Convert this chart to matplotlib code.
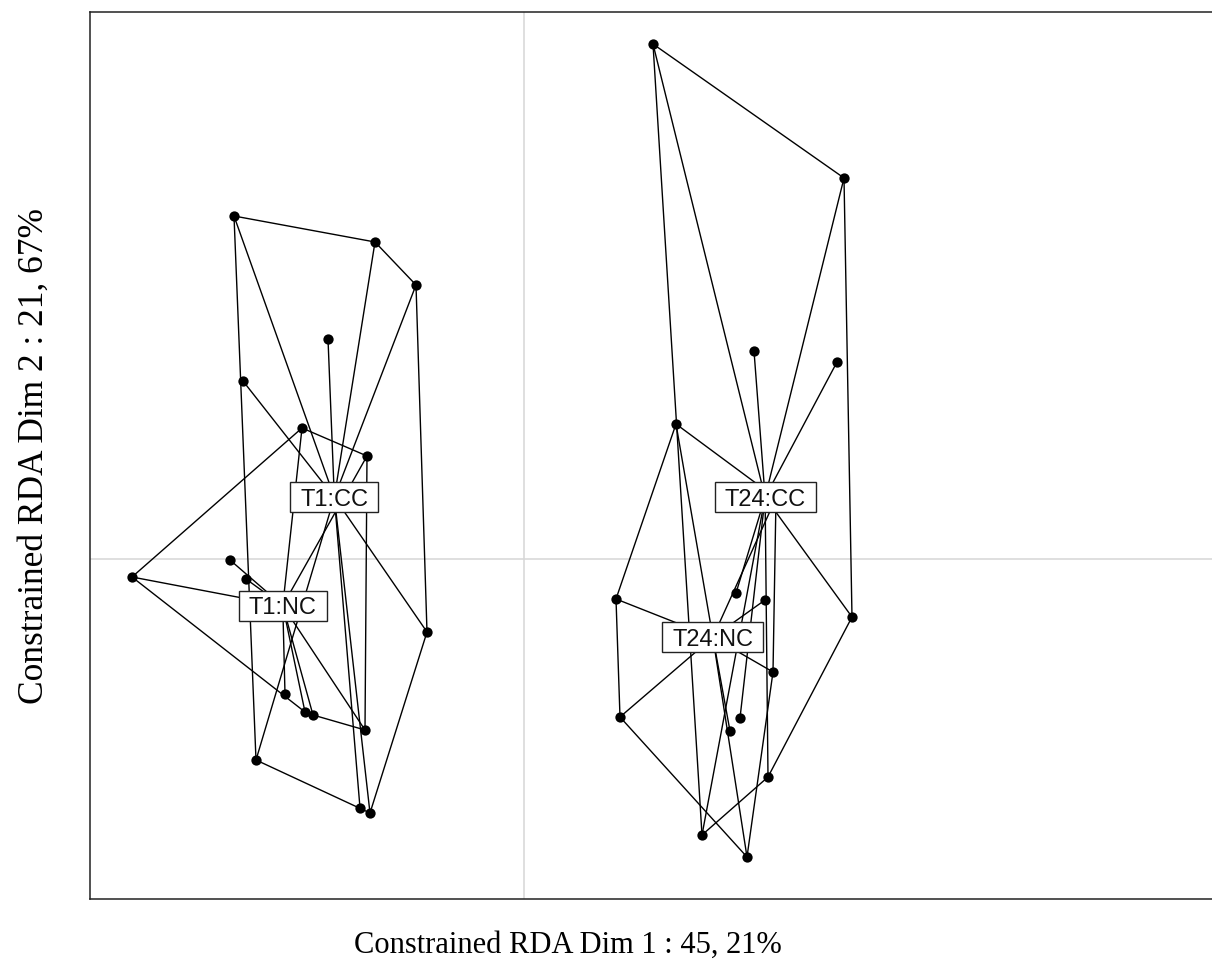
import numpy as np
import matplotlib
matplotlib.use("Agg")
import matplotlib.pyplot as plt
from matplotlib.patches import Rectangle
from matplotlib import transforms

# ---- data (RDA site scores) ----
groups = ["T1:CC", "T1:NC", "T24:CC", "T24:NC"]

t1cc_x = [-2.90, -1.49, -1.08, -1.96, -2.81, -0.97, -2.68, -1.64, -1.54]
t1cc_y = [3.43, 3.17, 2.74, 2.20, 1.78, -0.73, -2.01, -2.49, -2.54]

t1nc_x = [-2.22, -1.57, -3.92, -2.94, -2.78, -2.39, -2.19, -2.11, -1.59]
t1nc_y = [1.31, 1.03, -0.18, -0.01, -0.20, -1.35, -1.53, -1.56, -1.71]

t24cc_x = [1.29, 3.20, 2.30, 3.13, 2.12, 3.28, 2.16, 2.44, 1.78]
t24cc_y = [5.15, 3.81, 2.08, 1.97, -0.34, -0.58, -1.59, -2.18, -2.76]

t24nc_x = [1.52, 0.92, 2.41, 2.49, 0.96, 2.06, 2.23, 2.52]
t24nc_y = [1.35, -0.40, -0.41, -1.13, -1.58, -1.72, -2.98, 0.61]

xlab = "Constrained RDA Dim 1 : 45, 21%"
ylab = "Constrained RDA Dim 2 : 21, 67%"

data = {
    "T1:CC": (t1cc_x, t1cc_y),
    "T1:NC": (t1nc_x, t1nc_y),
    "T24:CC": (t24cc_x, t24cc_y),
    "T24:NC": (t24nc_x, t24nc_y),
}


def convex_hull(pts):
    pts = sorted(set(pts))
    if len(pts) <= 2:
        return pts

    def cross(o, a, b):
        return (a[0] - o[0]) * (b[1] - o[1]) - (a[1] - o[1]) * (b[0] - o[0])

    lower = []
    for p in pts:
        while len(lower) >= 2 and cross(lower[-2], lower[-1], p) <= 0:
            lower.pop()
        lower.append(p)
    upper = []
    for p in reversed(pts):
        while len(upper) >= 2 and cross(upper[-2], upper[-1], p) <= 0:
            upper.pop()
        upper.append(p)
    return lower[:-1] + upper[:-1]


W, H = 1212, 969
fig = plt.figure(figsize=(W / 100, H / 100), dpi=100)
left_px, top_px, bot_px, right_px = 90, 12, 899, 1300
ax = fig.add_axes([left_px / W, 1 - bot_px / H, (right_px - left_px) / W,
                   (bot_px - top_px) / H])

ax.set_xlim(-4.34, 7.76)
ax.set_ylim(-3.40, 5.47)
ax.set_xticks([])
ax.set_yticks([])
for s in ax.spines.values():
    s.set_color("#222222")
    s.set_linewidth(1.1)

ax.axhline(0, color="#d6d6d6", lw=1.1, zorder=0)
ax.axvline(0, color="#d6d6d6", lw=1.1, zorder=0)

lw = 1.0
cents = {}
for g in groups:
    xs, ys = data[g]
    pts = list(zip(xs, ys))
    hull = convex_hull(pts)
    hx = [p[0] for p in hull] + [hull[0][0]]
    hy = [p[1] for p in hull] + [hull[0][1]]
    ax.plot(hx, hy, color="black", lw=lw, zorder=2, solid_capstyle="round")
    cx, cy = float(np.mean(xs)), float(np.mean(ys))
    cents[g] = (cx, cy)
    for x, y in pts:
        ax.plot([cx, x], [cy, y], color="black", lw=lw, zorder=2,
                solid_capstyle="round")
    ax.scatter(xs, ys, s=55, color="black", zorder=3, linewidths=0)

# labels with white boxes at group centroids
fs = 17
cap = fs * 0.716 * 100 / 72.0
txts = []
for g in groups:
    cx, cy = cents[g]
    tr = transforms.offset_copy(ax.transData, fig=fig, x=0, y=-cap / 2,
                                units="dots")
    t = ax.text(cx, cy, g, ha="center", va="baseline", fontsize=fs,
                family=["Liberation Sans", "DejaVu Sans"], color="#111111",
                transform=tr, zorder=6)
    txts.append((g, t))

fig.canvas.draw()
r = fig.canvas.get_renderer()
inv = ax.transData.inverted()
for g, t in txts:
    bb = t.get_window_extent(r)
    cx, cy = cents[g]
    dx, dy = ax.transData.transform((cx, cy))
    bw = bb.width + 20
    bh = 30
    x0, y0 = inv.transform((dx - bw / 2, dy - bh / 2))
    x1, y1 = inv.transform((dx + bw / 2, dy + bh / 2))
    ax.add_patch(Rectangle((x0, y0), x1 - x0, y1 - y0, facecolor="white",
                           edgecolor="#222222", lw=1.0, zorder=5))

fig.text(567.5 / W, 1 - 945 / H, xlab, ha="center", va="center",
         fontsize=22, family=["Liberation Serif", "DejaVu Serif"])
fig.text(34 / W, 1 - 455.5 / H, ylab, ha="center", va="center",
         rotation=90, fontsize=25.5, family=["Liberation Serif", "DejaVu Serif"])

fig.savefig("out.png", dpi=100)
